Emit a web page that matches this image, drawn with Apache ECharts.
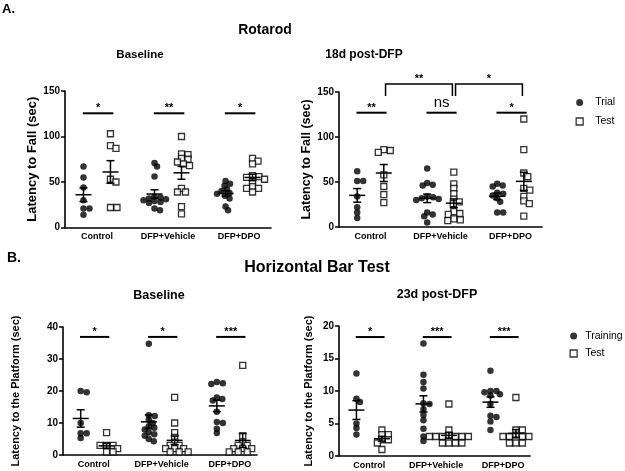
<!DOCTYPE html>
<html><head><meta charset="utf-8">
<script src="https://cdn.jsdelivr.net/npm/echarts@6/dist/echarts.min.js"></script>
<style>html,body{margin:0;padding:0;background:#fff}#c{width:625px;height:471px}</style>
</head><body><div id="c"></div>
<script>
const groups = ['Control', 'DFP+Vehicle', 'DFP+DPO'];

// Rotarod – Baseline (latency to fall, sec)
const rotBaseTrial = [[67,55,44,30,21,21,14],[71,67,56,34,33,32,31,30,29,28,27,21,19],[51,48,46,42,40,38,37,35,32,23,19]];
const rotBaseTest  = [[103,90,87,53,50,22,22],[100,81,80,76,75,72,70,68,43,39,39,23,15],[76,73,70,57,56,55,53,50,45,43,43,39]];
// Rotarod – 18d post-DFP
const rotPostTrial = [[62,51,51,34,22,16,10],[65,49,47,46,34,33,32,31,30,16,14,12,5],[48,46,45,38,37,35,32,28,16,16]];
const rotPostTest  = [[86,85,83,58,45,36,27],[61,48,43,37,31,28,26,17,15,14,9,8,7],[120,86,60,56,43,41,34,29,26,12]];
// Horizontal bar – Baseline (latency to the platform, sec)
const barBaseTrain = [[20,19.6,10,6.8,6.8,5.3],[34.8,12.4,12.2,11,10,9,8.5,8,7,6.5,6,5,4.3],[22.8,22.4,22.2,18,17.5,17,13.5,10.3,10,8.2,6.9]];
const barBaseTest  = [[7,3,3,3,2,1,1],[18,10,7,5.5,4,3,3,2,2,2,1,1,1],[28,6,4,3,3,2,2,2,1.5,1,1,1]];
// Horizontal bar – 23d post-DFP
const barPostTrain = [[12.7,8.8,8.3,5,4.3,3.3],[17.3,12.5,11.4,10.4,8.1,8,7.2,6.3,5.5,4.2,3,2.3],[13.1,10,10,9.8,9.5,9.3,8,6.2,6,5.3,4]];
const barPostTest  = [[4,3.3,3.3,2.5,2.5,2,1],[8,4,3.2,3,3,3,3,3,3,2,2,2,2],[9,4,4,3.2,3,3,3,3,2,2,2]];

const rotTicks = [0, 50, 100, 150];
const barBaseTicks = [0, 10, 20, 30, 40];
const barPostTicks = [0, 5, 10, 15, 20];

const rotBaseSig = ['*', '**', '*'];
const rotPostSig = ['**', 'ns', '*'];
const rotPostCompare = [[0, 1, '**'], [1, 2, '*']];
const barBaseSig = ['*', '*', '***'];
const barPostSig = ['*', '***', '***'];

const FONT = '"Liberation Sans", Arial, sans-serif';
const XMIN = -0.45, SIDE = 0.19;

const panels = [
  {grid:{left:65,top:91,width:206,height:136.5}, xMax:2.45, ticks:rotTicks, yName:'Latency to Fall (sec)', nameSize:13, nameGap:24, a:rotBaseTrial, b:rotBaseTest, aName:'Trial', sig:rotBaseSig, sigY:125.5},
  {grid:{left:339,top:92,width:203,height:135}, xMax:2.45, ticks:rotTicks, yName:'Latency to Fall (sec)', nameSize:12.5, nameGap:23, a:rotPostTrial, b:rotPostTest, aName:'Trial', sig:rotPostSig, sigY:127, compare:rotPostCompare, cmpTop:159, cmpBottom:145.5},
  {grid:{left:63,top:327,width:194,height:128}, xMax:2.4, ticks:barBaseTicks, yName:'Latency to the Platform (sec)', nameSize:11, nameGap:42, a:barBaseTrain, b:barBaseTest, aName:'Training', sig:barBaseSig, sigY:36.9},
  {grid:{left:339,top:326,width:191,height:130}, xMax:2.4, ticks:barPostTicks, yName:'Latency to the Platform (sec)', nameSize:11, nameGap:25, a:barPostTrain, b:barPostTest, aName:'Training', sig:barPostSig, sigY:18.3}
];

// deterministic beeswarm layout (pixel space, vertical distances weighted) -> data units
function swarm(values, center, unitPx, pxPerVal, diam) {
  const order = values.map((v, i) => i).sort((p, q) => values[q] - values[p]);
  const placed = [];
  const out = [];
  order.forEach(i => {
    const y = values[i] * pxPerVal * 1.5;
    let off = 0;
    for (let k = 0; k < 400; k++) {
      const cand = k === 0 ? 0 : (k % 2 === 1 ? 1 : -1) * Math.ceil(k / 2) * 0.5;
      let ok = true;
      for (const p of placed) {
        const dx = p.x - cand, dy = p.y - y;
        if (dx * dx + dy * dy < diam * diam - 0.01) { ok = false; break; }
      }
      if (ok) { off = cand; break; }
    }
    placed.push({x: off, y: y});
    out.push([center + off / unitPx, values[i]]);
  });
  return out;
}
function meanSem(arr) {
  const n = arr.length, m = arr.reduce((s, v) => s + v, 0) / n;
  const sd = Math.sqrt(arr.reduce((s, v) => s + (v - m) * (v - m), 0) / (n - 1));
  return [m, sd / Math.sqrt(n)];
}
function errRender(params, api) {
  const x = api.value(0), m = api.value(1), s = api.value(2);
  const c = api.coord([x, m]), t = api.coord([x, m + s]), b = api.coord([x, m - s]);
  const st = {stroke:'#000', lineWidth:1.5};
  return {type:'group', children:[
    {type:'line', shape:{x1:c[0]-8, y1:c[1], x2:c[0]+8, y2:c[1]}, style:st},
    {type:'line', shape:{x1:t[0], y1:t[1], x2:b[0], y2:b[1]}, style:st},
    {type:'line', shape:{x1:t[0]-4, y1:t[1], x2:t[0]+4, y2:t[1]}, style:st},
    {type:'line', shape:{x1:b[0]-4, y1:b[1], x2:b[0]+4, y2:b[1]}, style:st}
  ]};
}
function sigRender(texts) {
  return function (params, api) {
    const p1 = api.coord([api.value(0), api.value(2)]), p2 = api.coord([api.value(1), api.value(2)]);
    const t = texts[params.dataIndex], ns = t === 'ns';
    return {type:'group', children:[
      {type:'line', shape:{x1:p1[0], y1:p1[1], x2:p2[0], y2:p2[1]}, style:{stroke:'#000', lineWidth:2}},
      {type:'text', style:{text:t, x:(p1[0]+p2[0])/2, y:p1[1] - (ns ? 10 : 5), align:'center', verticalAlign:'middle',
        font: ns ? '15px ' + FONT : 'bold 11px ' + FONT, fill:'#000'}}
    ]};
  };
}
function bracketRender(texts) {
  return function (params, api) {
    const a = api.coord([api.value(0), api.value(2)]), b = api.coord([api.value(1), api.value(2)]);
    const a2 = api.coord([api.value(0), api.value(3)]), b2 = api.coord([api.value(1), api.value(3)]);
    return {type:'group', children:[
      {type:'polyline', shape:{points:[[a2[0],a2[1]],[a[0],a[1]],[b[0],b[1]],[b2[0],b2[1]]]}, style:{stroke:'#000', lineWidth:1.5, fill:null}},
      {type:'text', style:{text:texts[params.dataIndex], x:(a[0]+b[0])/2, y:a[1]-5, align:'center', verticalAlign:'middle', font:'bold 11px ' + FONT, fill:'#000'}}
    ]};
  };
}

const grids = [], xAxes = [], yAxes = [], series = [];
panels.forEach((p, i) => {
  grids.push(Object.assign({containLabel:false}, p.grid));
  const yMax = p.ticks[p.ticks.length - 1];
  xAxes.push({type:'value', gridIndex:i, min:XMIN, max:p.xMax, interval:0.05,
    axisLine:{onZero:false, lineStyle:{color:'#000', width:1.6}}, axisTick:{show:false}, splitLine:{show:false},
    axisLabel:{margin:5, color:'#000', fontFamily:FONT, fontWeight:'bold', fontSize:9,
      formatter: v => { const r = Math.round(v); return (Math.abs(v - r) < 1e-6 && r >= 0 && r < groups.length) ? groups[r] : ''; }}});
  yAxes.push({type:'value', gridIndex:i, min:p.ticks[0], max:yMax, interval:p.ticks[1]-p.ticks[0],
    name:p.yName, nameLocation:'middle', nameGap:p.nameGap,
    nameTextStyle:{color:'#000', fontFamily:FONT, fontWeight:'bold', fontSize:p.nameSize},
    axisLine:{show:true, onZero:false, lineStyle:{color:'#000', width:1.6}},
    axisTick:{show:true, length:4, lineStyle:{color:'#000', width:1.5}}, splitLine:{show:false},
    axisLabel:{margin:5, color:'#000', fontFamily:FONT, fontWeight:'bold', fontSize:10}});
  const unitPx = p.grid.width / (p.xMax - XMIN);
  const pxPerVal = p.grid.height / (yMax - p.ticks[0]);
  let ptsA = [], ptsB = [], errA = [], errB = [];
  groups.forEach((g, gi) => {
    ptsA = ptsA.concat(swarm(p.a[gi], gi - SIDE, unitPx, pxPerVal, 6));
    ptsB = ptsB.concat(swarm(p.b[gi], gi + SIDE, unitPx, pxPerVal, 6.5));
    errA.push([gi - SIDE].concat(meanSem(p.a[gi])));
    errB.push([gi + SIDE].concat(meanSem(p.b[gi])));
  });
  series.push({type:'scatter', name:p.aName, xAxisIndex:i, yAxisIndex:i, data:ptsA, symbol:'circle', symbolSize:6.5,
    itemStyle:{color:'#000'}, z:2, silent:true});
  series.push({type:'scatter', name:'Test', xAxisIndex:i, yAxisIndex:i, data:ptsB, symbol:'rect', symbolSize:6,
    itemStyle:{color:'#fff', borderColor:'#000', borderWidth:1.3}, z:2, silent:true});
  series.push({type:'custom', xAxisIndex:i, yAxisIndex:i, data:errA.concat(errB), renderItem:errRender, z:3, silent:true});
  series.push({type:'custom', xAxisIndex:i, yAxisIndex:i, data:groups.map((g, gi) => [gi - 0.2, gi + 0.23, p.sigY]),
    renderItem:sigRender(p.sig), z:3, silent:true});
  if (p.compare) {
    series.push({type:'custom', xAxisIndex:i, yAxisIndex:i,
      data:p.compare.map(c => [c[0] + SIDE + 0.025, c[1] + SIDE - 0.02, p.cmpTop, p.cmpBottom]),
      renderItem:bracketRender(p.compare.map(c => c[2])), z:3, silent:true});
  }
});

const titles = [
  {text:'A.', x:2, y:9, size:13, align:'left'},
  {text:'Rotarod', x:265, y:30, size:14},
  {text:'Baseline', x:140, y:55, size:11.5},
  {text:'18d post-DFP', x:364, y:55, size:12},
  {text:'B.', x:7, y:258, size:14, align:'left'},
  {text:'Horizontal Bar Test', x:317, y:268, size:16},
  {text:'Baseline', x:159, y:296, size:12.5},
  {text:'23d post-DFP', x:437, y:295, size:12.5}
];

const legendText = {color:'#000', fontFamily:FONT, fontSize:10.5};
const option = {
  animation:false,
  backgroundColor:'#fff',
  grid:grids, xAxis:xAxes, yAxis:yAxes, series:series,
  legend:[
    {left:575.5, top:97, padding:0, orient:'vertical', itemWidth:7, itemHeight:7, itemGap:8, selectedMode:false,
      textStyle:Object.assign({padding:[0,0,0,7]}, legendText),
      data:[{name:'Trial', icon:'circle', itemStyle:{color:'#000'}},
            {name:'Test', icon:'rect', itemStyle:{color:'#fff', borderColor:'#000', borderWidth:1.3}}]},
    {left:569.5, top:330.5, padding:0, orient:'vertical', itemWidth:7, itemHeight:7, itemGap:6.5, selectedMode:false,
      textStyle:Object.assign({padding:[0,0,0,3]}, legendText),
      data:[{name:'Training', icon:'circle', itemStyle:{color:'#000'}},
            {name:'Test', icon:'rect', itemStyle:{color:'#fff', borderColor:'#000', borderWidth:1.3}}]}
  ],
  graphic: titles.map(t => ({type:'text', x:t.x, y:t.y, silent:true,
    style:{text:t.text, align:t.align || 'center', verticalAlign:'middle', font:'bold ' + t.size + 'px ' + FONT, fill:'#000'}}))
};
const chart = echarts.init(document.getElementById('c'), null, {renderer:'canvas'});
chart.setOption(option);
</script>
</body></html>
